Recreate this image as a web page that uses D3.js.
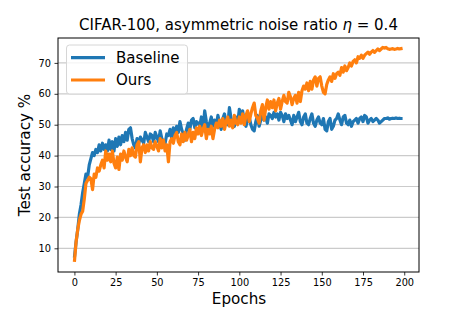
<!DOCTYPE html>
<html>
<head>
<meta charset="utf-8">
<script src="https://cdn.jsdelivr.net/npm/d3@7"></script>
<style>
  body { margin: 0; background: #fff; }
  text { font-family: "DejaVu Sans", sans-serif; fill: #000; }
</style>
</head>
<body>
<div id="chart"></div>
<script>
// values, one per epoch (0..199)
var baseline = [
  7, 12, 16, 21, 24, 28, 31, 34, 33, 37, 39, 41, 40, 42, 41, 43.5, 41.5, 44, 42, 43.5,
  41.5, 45, 42, 44.5, 41.5, 45.5, 43, 46, 43.5, 46.5, 44.5, 47.5, 45, 48.5, 49, 45.5, 43.5, 42.5, 45.5, 44,
  46, 45, 44, 47.5, 46, 44.5, 47, 46.5, 44.5, 47.5, 46, 44.5, 48, 45.5, 44.5, 44, 47, 46.5, 48.5, 45.5,
  49, 46.5, 49.5, 47.5, 51, 48.5, 47, 45, 48.5, 50.5, 48.5, 51.5, 52, 49, 51, 50.5, 49.5, 52.5, 48.5, 54.5,
  51, 48.5, 50.5, 52.5, 49.5, 51.5, 49.5, 53, 50.5, 48.5, 52, 53.5, 50.5, 50, 55.5, 52, 50.5, 49.5, 52.5, 50.5,
  55, 51.5, 54.5, 51, 49.5, 51.5, 52.5, 50, 48.5, 48, 51, 53, 49.5, 51.5, 53.5, 51.5, 52.5, 50.5, 53.5, 53,
  52, 54, 52.5, 53.5, 51.5, 54, 53, 51, 53.5, 52, 53, 51.5, 50, 53, 51, 52.5, 54, 51, 50, 52.5,
  53.5, 50.5, 50, 52, 53.5, 50.5, 49.5, 51.5, 52.5, 50.5, 50, 52, 48.5, 48, 51, 52, 48.5, 49.5, 51.5, 52,
  53.5, 51.5, 50, 52.5, 53, 50.5, 50, 51.5, 49.5, 51, 51.5, 52, 50.5, 52, 52.5, 51, 53, 52.5, 50.5, 51.5,
  52, 51, 51.5, 52, 51.5, 50.5, 51, 51.5, 52, 52, 52.2, 51.8, 52, 52.1, 52, 52.2, 52, 52.1, 52, 52
];
var ours = [
  5.6, 12, 16, 19, 21, 22, 26, 31, 32, 33, 32.5, 29, 34, 33, 36, 35, 37, 38.5, 36, 41.5,
  38.5, 40.5, 38, 41.5, 37.5, 36, 39.5, 35.5, 40.5, 38.5, 41.5, 39.5, 38, 42, 40, 42.5, 40, 39.5, 43.5, 44.5,
  38, 42.5, 43.5, 41, 43.5, 41.5, 44.5, 42.5, 42, 44.5, 43, 41.5, 45.5, 42.5, 45, 41.5, 43.5, 38, 44.5, 45.5,
  44, 46.5, 47.5, 44.5, 43.5, 47, 44.5, 47.5, 45, 46.5, 48.5, 44.5, 47.5, 45.5, 49, 47, 49.5, 46.5, 48.5, 50,
  45.5, 48.5, 47, 49.5, 45.5, 48.5, 50.5, 49, 51.5, 49.5, 52, 48.5, 51, 52.5, 49.5, 51.5, 49, 53, 50.5, 50,
  52.5, 50.5, 53.5, 50, 53, 54.5, 51, 53.5, 55.5, 57, 53, 52, 50.5, 54.5, 56.5, 51.5, 55.5, 58, 55, 57.5,
  55.5, 58, 54.5, 57, 58.5, 55, 57.5, 59.5, 57.5, 57, 60.5, 59, 56.5, 58.5, 59.5, 57, 60.5, 57.5, 61, 62.5,
  61.5, 63.5, 61, 64, 61.5, 64.5, 65.5, 62.5, 65, 65.5, 62.5, 60.5, 60, 63, 64.5, 65.5, 64, 66.5, 65, 66.5,
  67, 66, 68.5, 67, 69, 67.5, 68.5, 70, 69, 70.5, 71, 70, 72, 71.5, 72.5, 71.5, 72.5, 73, 73.5, 72.8,
  73.5, 74, 73.4, 74, 74.5, 74, 74.5, 75, 74.8, 75, 74.6, 74.4, 74.5, 74.6, 74.4, 74.5, 74.7, 74.5, 74.6, 74.7
];
var seriesNames = ["Baseline", "Ours"];
var seriesColors = ["#1f77b4", "#ff7f0e"];
var xTicks = [0, 25, 50, 75, 100, 125, 150, 175, 200];
var yTicks = [10, 20, 30, 40, 50, 60, 70];

var W = 466, H = 311;
var margin = {top: 38, right: 47, bottom: 39, left: 58},
    width = W - margin.left - margin.right,
    height = H - margin.top - margin.bottom;

var svg = d3.select("#chart")
  .append("svg")
    .attr("width", W)
    .attr("height", H)

var g = svg.append("g")
    .attr("transform", "translate(" + margin.left + "," + margin.top + ")")

var x = d3.scaleLinear().domain([-9.95, 208.95]).range([0, width])
var y = d3.scaleLinear().domain([2.33, 78.06]).range([height, 0])

// horizontal grid
g.append("g")
  .selectAll("line")
  .data(yTicks)
  .enter()
  .append("line")
    .attr("x1", 0)
    .attr("x2", width)
    .attr("y1", function(d) { return y(d); })
    .attr("y2", function(d) { return y(d); })
    .attr("stroke", "#cbcbcb")
    .attr("stroke-width", 1.2)

// lines
var line = d3.line()
  .x(function(d, i) { return x(i); })
  .y(function(d) { return y(d); })

var clip = g.append("clipPath").attr("id", "clip")
clip.append("rect").attr("width", width).attr("height", height)

g.append("g").attr("clip-path", "url(#clip)")
  .selectAll("path")
  .data([baseline, ours])
  .enter()
  .append("path")
    .attr("d", line)
    .attr("fill", "none")
    .attr("stroke", function(d, i) { return seriesColors[i]; })
    .attr("stroke-width", 3.2)
    .attr("stroke-linejoin", "round")

// axes
var xAxis = g.append("g")
  .attr("transform", "translate(0," + height + ")")
  .call(d3.axisBottom(x).tickValues(xTicks).tickSize(3.5).tickPadding(3.5))
var yAxis = g.append("g")
  .call(d3.axisLeft(y).tickValues(yTicks).tickSize(3.5).tickPadding(3.5))

g.selectAll(".domain").remove()
g.selectAll(".tick text")
  .style("font-family", "DejaVu Sans, sans-serif")
  .style("font-size", "9.8px")
  .attr("fill", "#000")
g.selectAll(".tick line").attr("stroke", "#000").attr("stroke-width", 0.8)

// frame
g.append("rect")
  .attr("width", width)
  .attr("height", height)
  .attr("fill", "none")
  .attr("stroke", "#000")
  .attr("stroke-width", 1)

// title
var title = svg.append("text")
  .attr("x", margin.left + width / 2)
  .attr("y", 30)
  .attr("text-anchor", "middle")
  .style("font-size", "15px")
title.append("tspan").text("CIFAR-100, asymmetric noise ratio ")
title.append("tspan").style("font-style", "italic").text("η")
title.append("tspan").text(" = 0.4")

// axis labels
svg.append("text")
  .attr("x", margin.left + width / 2 + 0.5)
  .attr("y", 304)
  .attr("text-anchor", "middle")
  .style("font-size", "15.2px")
  .text("Epochs")

svg.append("text")
  .attr("transform", "translate(30," + (margin.top + height / 2) + ") rotate(-90)")
  .attr("text-anchor", "middle")
  .style("font-size", "15.2px")
  .text("Test accuracy %")

// legend
var legend = svg.append("g").attr("transform", "translate(66.5,45)")
legend.append("rect")
  .attr("width", 121)
  .attr("height", 49)
  .attr("rx", 3)
  .attr("fill", "#fff")
  .attr("fill-opacity", 0.8)
  .attr("stroke", "#d6d6d6")
  .attr("stroke-width", 1)

var items = legend.selectAll(".item")
  .data(seriesNames)
  .enter()
  .append("g")
    .attr("transform", function(d, i) { return "translate(0," + (12.7 + i * 22.3) + ")"; })
items.append("line")
  .attr("x1", 4.5)
  .attr("x2", 38.5)
  .attr("stroke", function(d, i) { return seriesColors[i]; })
  .attr("stroke-width", 3.2)
items.append("text")
  .attr("x", 49.5)
  .attr("y", 5.4)
  .style("font-size", "15px")
  .text(function(d) { return d; })
</script>
</body>
</html>
